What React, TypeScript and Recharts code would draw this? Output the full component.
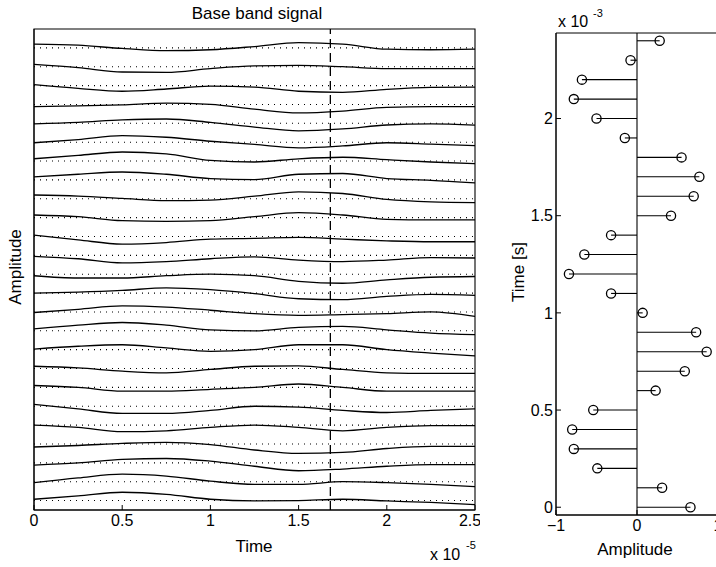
import React from "react";
import {
  LineChart, Line, XAxis, YAxis, ReferenceLine, ReferenceArea,
  ScatterChart, Scatter,
} from "recharts";

// sample instants of each base band trace (s)
const times = [0, 0.25e-5, 0.5e-5, 0.75e-5, 1e-5, 1.25e-5, 1.5e-5, 1.75e-5, 2e-5, 2.25e-5, 2.5e-5];

// deviation of each trace from its dotted baseline, top trace first
const traces: number[][] = [
  [0.2, 0.14, -0.03, -0.15, -0.1, 0.07, 0.28, 0.2, -0.07, -0.1, -0.07],
  [0.12, -0.05, -0.28, -0.3, -0.1, 0.04, 0.07, 0, -0.1, -0.1, -0.1],
  [0.05, -0.15, -0.3, -0.18, -0.03, -0.08, -0.3, -0.36, -0.2, -0.1, -0.08],
  [-0.12, -0.08, -0.02, 0.07, 0, -0.25, -0.45, -0.35, -0.15, -0.12, -0.12],
  [-0.03, 0.05, 0.18, 0.23, 0.05, -0.2, -0.4, -0.3, -0.09, -0.03, -0.1],
  [-0.03, 0.14, 0.35, 0.26, 0.05, -0.12, -0.3, -0.2, -0.03, -0.1, -0.18],
  [0.12, 0.3, 0.48, 0.38, 0.03, -0.05, 0.12, 0.2, 0.07, -0.05, -0.14],
  [0.16, 0.3, 0.42, 0.3, 0.07, 0.02, 0.3, 0.34, 0.07, -0.02, -0.16],
  [0.2, 0.14, 0.02, -0.1, -0.07, 0.14, 0.37, 0.28, -0.03, -0.16, -0.2],
  [0.14, 0.05, -0.16, -0.2, -0.16, 0.05, 0.26, 0.14, -0.09, -0.12, -0.12],
  [0.07, -0.18, -0.4, -0.32, -0.14, -0.1, -0.05, -0.14, -0.23, -0.28, -0.28],
  [-0.05, -0.18, -0.4, -0.33, -0.18, -0.08, -0.25, -0.33, -0.25, -0.12, -0.14],
  [-0.08, -0.2, -0.2, -0.08, 0, -0.08, -0.38, -0.48, -0.3, -0.16, -0.12],
  [0, 0.05, 0.14, 0.28, 0.18, -0.03, -0.3, -0.35, -0.18, -0.07, -0.12],
  [-0.03, 0.14, 0.32, 0.26, 0.09, -0.09, -0.18, -0.14, -0.09, 0, -0.24],
  [0.1, 0.3, 0.44, 0.3, 0.05, 0, 0.18, 0.23, 0.05, -0.12, -0.2],
  [0.03, 0.18, 0.26, 0.09, -0.09, 0, 0.26, 0.26, 0, -0.18, -0.33],
  [0.12, 0.03, -0.14, -0.23, -0.05, 0.12, 0.14, -0.05, -0.23, -0.26, -0.26],
  [0.1, 0, -0.2, -0.2, -0.1, 0, 0.18, 0, -0.2, -0.2, -0.2],
  [0.1, -0.14, -0.38, -0.38, -0.22, 0, -0.05, -0.22, -0.33, -0.22, -0.14],
  [0, -0.12, -0.35, -0.3, -0.12, 0, -0.12, -0.3, -0.12, -0.03, -0.03],
  [-0.16, -0.08, 0.03, 0.09, -0.03, -0.32, -0.5, -0.45, -0.24, -0.13, -0.13],
  [-0.12, 0, 0.18, 0.23, 0.09, -0.18, -0.42, -0.33, -0.18, -0.09, -0.09],
  [-0.05, 0.2, 0.4, 0.3, 0.03, -0.14, -0.14, 0, -0.05, -0.14, -0.26],
  [0.07, 0.25, 0.44, 0.33, 0.07, -0.02, 0, 0.07, -0.02, -0.1, -0.22],
];

const cursorTime = 1.68e-5;
const timeTicks = [0, 0.5e-5, 1e-5, 1.5e-5, 2e-5, 2.5e-5];
const sideTicks = [2.5, 7.5, 12.5, 17.5, 22.5];

// sampled base band values (right panel)
const stemTimes = [0, 0.1e-3, 0.2e-3, 0.3e-3, 0.4e-3, 0.5e-3, 0.6e-3, 0.7e-3, 0.8e-3, 0.9e-3, 1e-3, 1.1e-3, 1.2e-3,
  1.3e-3, 1.4e-3, 1.5e-3, 1.6e-3, 1.7e-3, 1.8e-3, 1.9e-3, 2e-3, 2.1e-3, 2.2e-3, 2.3e-3, 2.4e-3];
const stemValues = [0.66, 0.31, -0.49, -0.78, -0.8, -0.54, 0.23, 0.59, 0.86, 0.73, 0.07, -0.32, -0.84,
  -0.65, -0.32, 0.42, 0.7, 0.77, 0.55, -0.15, -0.5, -0.78, -0.68, -0.08, 0.28];
const ampTicks = [-1, 0, 1];
const stemTimeTicks = [0, 0.5e-3, 1e-3, 1.5e-3, 2e-3];

const n = traces.length;
const lineData = times.map((t, i) => {
  const row: Record<string, number> = { t };
  traces.forEach((dev, k) => {
    row["s" + k] = n - 1 - k + dev[i];
  });
  return row;
});
const stemData = stemTimes.map((t, i) => ({ t, v: stemValues[i] }));

const font = "'Liberation Sans', Arial, Helvetica, sans-serif";
const tickStyle = { fill: "#000", fontSize: 16, fontFamily: font };
const fmt = (mult: number) => (v: number) => {
  const s = String(parseFloat((v * mult).toFixed(2)));
  return s.replace("-", "\u2212");
};

const StemHead = (props: any) => (
  <circle cx={props.cx} cy={props.cy} r={4.6} fill="none" stroke="#000" strokeWidth={1.3} />
);

export default function App() {
  return (
    <div style={{ position: "absolute", left: 0, top: 0, width: 716, height: 567, overflow: "hidden", background: "#fff" }}>
      <div style={{ position: "absolute", left: 0, top: 0 }}>
        <LineChart width={480} height={567} data={lineData} margin={{ top: 29, right: 5, bottom: 27, left: 0 }}>
          <XAxis dataKey="t" type="number" domain={[0, 2.5e-5]} ticks={timeTicks} tickFormatter={fmt(1e5)}
            tickSize={-5} tickMargin={10} height={30} axisLine={{ stroke: "#000" }} tickLine={{ stroke: "#000" }}
            tick={tickStyle} allowDataOverflow />
          <XAxis xAxisId="top" orientation="top" type="number" domain={[0, 2.5e-5]} ticks={timeTicks}
            tickSize={-5} tick={false} height={0} axisLine={{ stroke: "#000" }} tickLine={{ stroke: "#000" }} allowDataOverflow />
          <YAxis type="number" domain={[-0.5, 25]} ticks={sideTicks} width={34} tick={false} tickSize={-5}
            axisLine={{ stroke: "#000" }} tickLine={{ stroke: "#000" }} allowDataOverflow />
          <YAxis yAxisId="right" orientation="right" type="number" domain={[-0.5, 25]} ticks={sideTicks} width={0}
            tick={false} tickSize={-5} axisLine={{ stroke: "#000" }} tickLine={{ stroke: "#000" }} allowDataOverflow />
          <ReferenceArea x1={0} x2={2.5e-5} y1={-0.5} y2={25} fill="none" stroke="#000" strokeWidth={1.1} />
          {traces.map((_, k) => (
            <ReferenceLine key={"b" + k} y={n - 1 - k} stroke="#000" strokeWidth={1.1} strokeDasharray="1 5" />
          ))}
          {traces.map((_, k) => (
            <Line key={"s" + k} dataKey={"s" + k} type="monotone" dot={false} stroke="#000"
              strokeWidth={1.3} isAnimationActive={false} />
          ))}
          <ReferenceLine x={cursorTime} stroke="#000" strokeWidth={1.3} strokeDasharray="9 5" />
        </LineChart>
      </div>

      <div style={{ position: "absolute", left: 510, top: 0 }}>
        <ScatterChart width={216} height={567} margin={{ top: 33, right: 8, bottom: 22, left: 0 }}>
          <XAxis dataKey="v" type="number" domain={[-1, 1]} ticks={ampTicks} tickFormatter={fmt(1)}
            tickSize={-5} tickMargin={10} height={30} axisLine={{ stroke: "#000" }} tickLine={{ stroke: "#000" }}
            tick={tickStyle} allowDataOverflow />
          <YAxis dataKey="t" type="number" domain={[-0.04e-3, 2.44e-3]} ticks={stemTimeTicks} tickFormatter={fmt(1e3)}
            width={46} tickSize={-5} tickMargin={8} axisLine={{ stroke: "#000" }} tickLine={{ stroke: "#000" }}
            tick={tickStyle} allowDataOverflow />
          <ReferenceArea x1={-1} x2={1} y1={-0.04e-3} y2={2.44e-3} fill="none" stroke="#000" strokeWidth={1} />
          <ReferenceLine x={0} stroke="#000" strokeWidth={1.1} />
          {stemData.map((d, i) => (
            <ReferenceLine key={"st" + i} segment={[{ x: 0, y: d.t }, { x: d.v, y: d.t }]} stroke="#000" strokeWidth={1.1} />
          ))}
          <Scatter data={stemData} shape={StemHead} isAnimationActive={false} />
        </ScatterChart>
      </div>

      <svg width={716} height={567} style={{ position: "absolute", left: 0, top: 0, pointerEvents: "none" }}
        fontFamily={font} fill="#000">
        <text x={257} y={19} fontSize={17} textAnchor="middle">Base band signal</text>
        <text x={254} y={552} fontSize={17} textAnchor="middle">Time</text>
        <text x={430} y={560} fontSize={16}>x 10</text>
        <text x={466} y={549} fontSize={11}>-5</text>
        <text transform="translate(21,267) rotate(-90)" fontSize={17} textAnchor="middle">Amplitude</text>
        <text x={635} y={555} fontSize={17} textAnchor="middle">Amplitude</text>
        <text transform="translate(524,272) rotate(-90)" fontSize={17} textAnchor="middle">Time [s]</text>
        <text x={558} y={27} fontSize={16}>x 10</text>
        <text x={593} y={17} fontSize={11}>-3</text>
      </svg>
    </div>
  );
}
